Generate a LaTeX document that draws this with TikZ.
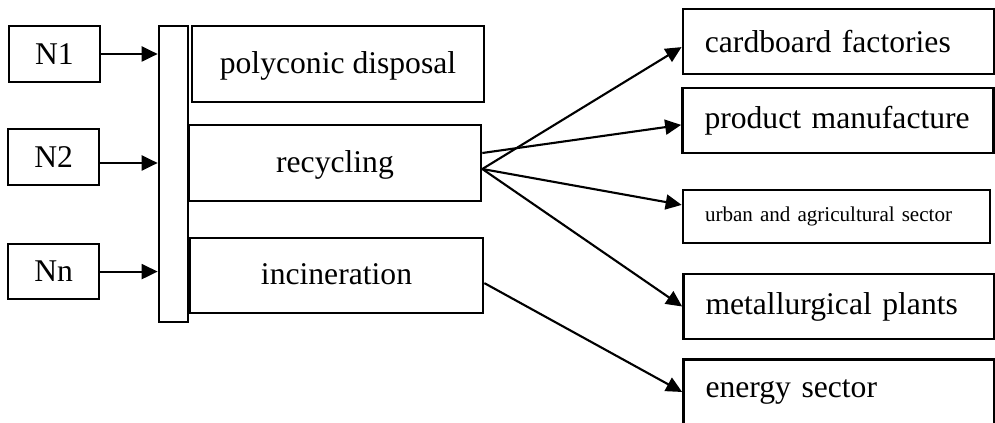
\documentclass[tikz,border=0pt]{standalone}
\usepackage{fontspec}
\setmainfont{Liberation Serif}
\usetikzlibrary{arrows.meta}

\begin{document}
\begin{tikzpicture}[
        font=\fontsize{22.5}{26}\selectfont,
        source/.style={draw, line width=1.9pt, minimum width=22.75mm, minimum height=14mm, inner sep=0pt},
        stage/.style={draw, line width=1.9pt, minimum width=73mm, minimum height=19mm, inner sep=0pt, text depth=0.5ex},
        target/.style={draw, line width=1.9pt, text width=66.75mm, inner xsep=5.5mm, inner ysep=0pt, minimum height=16.25mm, align=left},
        link/.style={-{Triangle[length=4mm, width=3.75mm]}, line width=1.5pt}
    ]
        \useasboundingbox (0,0) rectangle (24.875,-10.575);

        \node[source] (srcOne) at (1.36,-1.35) {N1};
        \node[source] (srcTwo) at (1.34,-3.925) {N2};
        \node[source, minimum height=13.75mm] (srcN) at (1.34,-6.79) {Nn};
        \node[draw, line width=1.9pt, minimum width=7.25mm, minimum height=74mm, inner sep=0pt]
            (collector) at (4.3375,-4.35) {};

        \node[stage] (disposal) at (8.45,-1.6) {polyconic disposal};
        \node[stage] (recycling) at (8.375,-4.075) {recycling};
        \node[stage, minimum width=73.25mm, minimum height=18.75mm] (incineration)
            at (8.4125,-6.8875) {incineration};

        \node[target] (cardboard) at (20.96,-1.0375) {cardboard factories};
        \node[target] (manufacture) at (20.95,-3.0125) {product manufacture};
        \node[target, text width=65.75mm, minimum height=13.25mm,
              font=\fontsize{15}{18}\selectfont] (urban) at (20.9125,-5.4125)
            {urban and agricultural sector};
        \node[target] (metallurgy) at (20.975,-7.6625) {metallurgical plants};
        \node[target] (energy) at (20.975,-9.8) {energy sector};

        \draw[link] (srcOne.east) -- (srcOne.east -| collector.west);
        \draw[link] ([yshift=-1.5mm]srcTwo.east) -- ([yshift=-1.5mm]srcTwo.east -| collector.west);
        \draw[link] (srcN.east) -- (srcN.east -| collector.west);

        \draw[link] ([yshift=-1.5mm]recycling.east) -- ([yshift=-1.4mm]cardboard.west);
        \draw[link] ([yshift=2.5mm]recycling.east) -- ([yshift=-1.1mm]manufacture.west);
        \draw[link] ([yshift=-1.5mm]recycling.east) -- ([yshift=2.9mm]urban.west);
        \draw[link] ([yshift=-1.5mm]recycling.east) -- (metallurgy.west);
        \draw[link] ([yshift=-1.9mm]incineration.east) -- (energy.west);
    \end{tikzpicture}
\end{document}
